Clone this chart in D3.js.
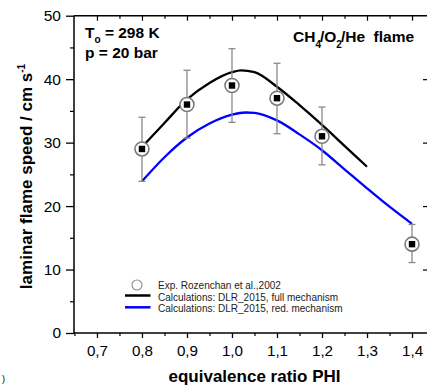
<!DOCTYPE html>
<html>
<head>
<meta charset="utf-8">
<script src="https://cdn.jsdelivr.net/npm/d3@7"></script>
<style>
  html, body { margin: 0; padding: 0; background: #fff; }
  svg { display: block; font-family: "Liberation Sans", Arial, sans-serif; }
</style>
</head>
<body>
<svg id="chart" width="427" height="385"></svg>
<script>
// Experimental laminar flame speeds (Rozenchan et al., 2002)
const expPhi   = [0.8, 0.9, 1.0, 1.1, 1.2, 1.4];
const expSpeed = [29.0, 36.0, 39.0, 37.0, 31.0, 14.0];
const expLow   = [23.9, 30.7, 33.2, 31.4, 26.5, 11.1];
const expHigh  = [34.0, 41.4, 44.8, 42.5, 35.6, 17.1];

// DLR_2015 full mechanism
const fullPhi   = [0.8, 0.85, 0.9, 0.95, 1.0, 1.02, 1.05, 1.1, 1.15, 1.2, 1.25, 1.3];
const fullSpeed = [29.3, 33.1, 36.8, 39.4, 41.1, 41.4, 41.1, 38.8, 35.9, 32.8, 29.5, 26.2];

// DLR_2015 reduced mechanism
const redPhi   = [0.8, 0.85, 0.9, 0.95, 1.0, 1.03, 1.05, 1.1, 1.15, 1.2, 1.25, 1.3, 1.35, 1.4];
const redSpeed = [23.9, 27.7, 30.8, 33.0, 34.4, 34.75, 34.7, 33.5, 31.3, 28.8, 25.8, 22.8, 19.9, 17.2];

// Axis ticks
const xTicks = [0.7, 0.8, 0.9, 1.0, 1.1, 1.2, 1.3, 1.4];
const xMinor = [0.65, 0.75, 0.85, 0.95, 1.05, 1.15, 1.25, 1.35];
const yTicks = [0, 10, 20, 30, 40, 50];
const yMinor = [5, 15, 25, 35, 45];

const legendLabels = [
  "Exp. Rozenchan et al.,2002",
  "Calculations: DLR_2015, full mechanism",
  "Calculations: DLR_2015, red. mechanism"
];

const svg = d3.select("#chart");
const plotL = 74, plotR = 428, plotT = 15.7, plotB = 333;

const x = d3.scaleLinear().domain([0.649, 1.4355]).range([plotL, plotR]);
const y = d3.scaleLinear().domain([0, 50]).range([plotB, plotT]);

const comma = v => d3.format(".1f")(v).replace(".", ",");

// frame
const frame = svg.append("g").attr("stroke", "#000").attr("stroke-width", 1.5).attr("fill", "none");
frame.append("line").attr("x1", plotL).attr("x2", plotL).attr("y1", plotT).attr("y2", plotB);
frame.append("line").attr("x1", plotL).attr("x2", plotR).attr("y1", plotB).attr("y2", plotB);
frame.append("line").attr("x1", plotL).attr("x2", plotR).attr("y1", plotT).attr("y2", plotT);
frame.append("line").attr("x1", plotR).attr("x2", plotR).attr("y1", plotT).attr("y2", plotB);

// bottom axis (outward ticks)
const xAxis = svg.append("g").attr("transform", `translate(0,${plotB})`)
  .call(d3.axisBottom(x).tickValues(xTicks).tickSize(5).tickPadding(7).tickFormat(comma));
xAxis.select(".domain").remove();
xAxis.selectAll("line").attr("stroke-width", 1.3);
xAxis.selectAll("text").attr("font-size", 15.2).attr("fill", "#000")
  .attr("font-family", "Liberation Sans, Arial, sans-serif");
svg.append("g").attr("transform", `translate(0,${plotB})`)
  .call(d3.axisBottom(x).tickValues(xMinor).tickSize(3).tickFormat(""))
  .call(g => g.select(".domain").remove())
  .selectAll("line").attr("stroke-width", 1.2);

// top axis (inward ticks)
svg.append("g").attr("transform", `translate(0,${plotT})`)
  .call(d3.axisTop(x).tickValues(xTicks).tickSize(-5).tickFormat(""))
  .call(g => g.select(".domain").remove())
  .selectAll("line").attr("stroke-width", 1.2);
svg.append("g").attr("transform", `translate(0,${plotT})`)
  .call(d3.axisTop(x).tickValues(xMinor.filter(v => v > 0.66)).tickSize(-3).tickFormat(""))
  .call(g => g.select(".domain").remove())
  .selectAll("line").attr("stroke-width", 1.2);

// left axis (outward ticks)
const yAxis = svg.append("g").attr("transform", `translate(${plotL},0)`)
  .call(d3.axisLeft(y).tickValues(yTicks).tickSize(8).tickPadding(5));
yAxis.select(".domain").remove();
yAxis.selectAll("line").attr("stroke-width", 1.3);
yAxis.selectAll("text").attr("font-size", 15.5).attr("fill", "#000")
  .attr("font-family", "Liberation Sans, Arial, sans-serif");
svg.append("g").attr("transform", `translate(${plotL},0)`)
  .call(d3.axisLeft(y).tickValues(yMinor).tickSize(4).tickFormat(""))
  .call(g => g.select(".domain").remove())
  .selectAll("line").attr("stroke-width", 1.2);

// right axis (inward ticks)
svg.append("g").attr("transform", `translate(${plotR},0)`)
  .call(d3.axisRight(y).tickValues(yTicks.filter(v => v > 0 && v < 50)).tickSize(-5).tickFormat(""))
  .call(g => g.select(".domain").remove())
  .selectAll("line").attr("stroke-width", 1.2);

// calculated curves
const line = d3.line().x(d => x(d[0])).y(d => y(d[1])).curve(d3.curveMonotoneX);
svg.append("path").datum(d3.zip(redPhi, redSpeed))
  .attr("d", line).attr("fill", "none").attr("stroke", "#0000ff").attr("stroke-width", 2.3);
svg.append("path").datum(d3.zip(fullPhi, fullSpeed))
  .attr("d", line).attr("fill", "none").attr("stroke", "#000").attr("stroke-width", 2.3);

// experimental points with error bars
const exp = expPhi.map((p, i) => ({ p, v: expSpeed[i], lo: expLow[i], hi: expHigh[i] }));
const eb = svg.append("g").attr("stroke", "#8a8a8a").attr("stroke-width", 1.3);
exp.forEach(d => {
  eb.append("line").attr("x1", x(d.p)).attr("x2", x(d.p)).attr("y1", y(d.lo)).attr("y2", y(d.hi));
  eb.append("line").attr("x1", x(d.p) - 3.5).attr("x2", x(d.p) + 3.5).attr("y1", y(d.lo)).attr("y2", y(d.lo));
  eb.append("line").attr("x1", x(d.p) - 3.5).attr("x2", x(d.p) + 3.5).attr("y1", y(d.hi)).attr("y2", y(d.hi));
});
svg.append("g").selectAll("circle").data(exp).join("circle")
  .attr("cx", d => x(d.p)).attr("cy", d => y(d.v)).attr("r", 7)
  .attr("fill", "#fff").attr("stroke", "#7a7a7a").attr("stroke-width", 1.6);
svg.append("g").selectAll("rect").data(exp).join("rect")
  .attr("x", d => x(d.p) - 3.2).attr("y", d => y(d.v) - 3.2)
  .attr("width", 6.4).attr("height", 6.4).attr("fill", "#000");

// annotations
const t1 = svg.append("text").attr("x", 85).attr("y", 38)
  .attr("font-size", 15.5).attr("font-weight", "bold");
t1.append("tspan").text("T");
t1.append("tspan").attr("dy", 4.5).attr("font-size", 10).text("o");
t1.append("tspan").attr("dy", -4.5).text(" = 298 K");
svg.append("text").attr("x", 85).attr("y", 58)
  .attr("font-size", 15.5).attr("font-weight", "bold").text("p = 20 bar");

const t2 = svg.append("text").attr("x", 293).attr("y", 41.5)
  .attr("font-size", 15.5).attr("font-weight", "bold");
t2.append("tspan").text("CH");
t2.append("tspan").attr("dy", 6).attr("font-size", 10).text("4");
t2.append("tspan").attr("dy", -6).attr("dx", -1).text("/O");
t2.append("tspan").attr("dy", 6).attr("font-size", 10).text("2");
t2.append("tspan").attr("dy", -6).attr("dx", -1).text("/He\u00a0 flame");

// legend
const lg = svg.append("g").attr("font-size", 10).attr("fill", "#222");
lg.append("circle").attr("cx", 137).attr("cy", 285).attr("r", 5)
  .attr("fill", "#fff").attr("stroke", "#8a8a8a").attr("stroke-width", 1.1);
lg.append("line").attr("x1", 125).attr("x2", 150.5).attr("y1", 295.5).attr("y2", 295.5)
  .attr("stroke", "#000").attr("stroke-width", 2.5);
lg.append("line").attr("x1", 125).attr("x2", 150.5).attr("y1", 307.3).attr("y2", 307.3)
  .attr("stroke", "#0000ff").attr("stroke-width", 2.5);
legendLabels.forEach((t, i) => {
  lg.append("text").attr("x", 158).attr("y", 289 + i * 11.6).text(t);
});

// axis titles
svg.append("text").attr("x", 254.5).attr("y", 381.7).attr("text-anchor", "middle")
  .attr("font-size", 17).attr("font-weight", "bold").text("equivalence ratio PHI");
const yl = svg.append("text").attr("transform", "translate(32,176.5) rotate(-90)")
  .attr("text-anchor", "middle").attr("font-size", 17).attr("font-weight", "bold");
yl.append("tspan").text("laminar flame speed / cm s");
yl.append("tspan").attr("dy", -7).attr("font-size", 10).text("-1");

svg.append("text").attr("x", 2).attr("y", 382).attr("font-size", 9).text(")");
</script>
</body>
</html>
